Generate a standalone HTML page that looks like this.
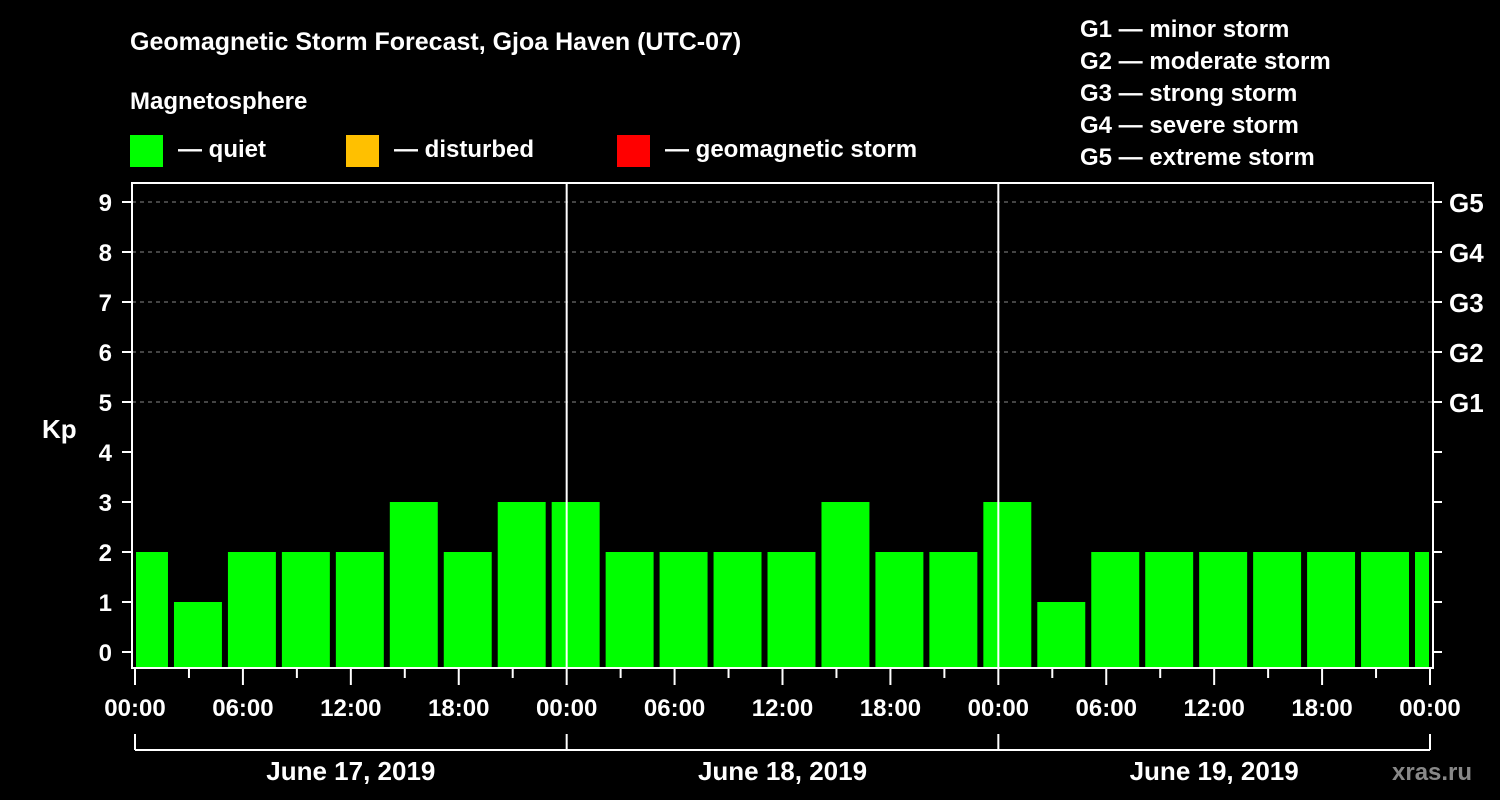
<!DOCTYPE html>
<html><head><meta charset="utf-8"><style>
html,body{margin:0;padding:0;background:#000;}
svg{display:block;}
text{font-family:"Liberation Sans",Arial,sans-serif;font-weight:bold;fill:#fff;}
</style></head><body>
<svg id="chart" width="1500" height="800" viewBox="0 0 1500 800" xmlns="http://www.w3.org/2000/svg">
<rect width="1500" height="800" fill="#000"/>
<text x="130" y="50" font-size="25">Geomagnetic Storm Forecast, Gjoa Haven (UTC-07)</text>
<text x="130" y="109" font-size="24">Magnetosphere</text>
<g><rect x="130" y="135" width="33" height="32" fill="#00ff00"/><text x="178" y="157" font-size="24">— quiet</text></g>
<g><rect x="346" y="135" width="33" height="32" fill="#ffc000"/><text x="394" y="157" font-size="24">— disturbed</text></g>
<g><rect x="617" y="135" width="33" height="32" fill="#ff0000"/><text x="665" y="157" font-size="24">— geomagnetic storm</text></g>
<g font-size="24">
<text x="1080" y="37">G1 — minor storm</text>
<text x="1080" y="69">G2 — moderate storm</text>
<text x="1080" y="101">G3 — strong storm</text>
<text x="1080" y="133">G4 — severe storm</text>
<text x="1080" y="165">G5 — extreme storm</text>
</g>
<text x="42" y="438" font-size="26">Kp</text>
<g id="grid"></g><g id="bars"></g><g id="axes"></g>
<text x="1392" y="780" font-size="24" fill="#888" style="fill:#888">xras.ru</text>
</svg>
<script>
const kpValues=[2,1,2,2,2,3,2,3,3,2,2,2,2,3,2,2,3,1,2,2,2,2,2,2,2];
const kpTicks=[0,1,2,3,4,5,6,7,8,9];
const gLabels=["G1","G2","G3","G4","G5"];
const gLevels=[5,6,7,8,9];
const timeLabels=["00:00","06:00","12:00","18:00","00:00","06:00","12:00","18:00","00:00","06:00","12:00","18:00","00:00"];
const dayLabels=["June 17, 2019","June 18, 2019","June 19, 2019"];
const NS="http://www.w3.org/2000/svg";
const L=132,R=1433,T=183,B=668;
const x0=135,x1=1430,H=72;
function xs(h){return x0+h*(x1-x0)/H;}
function ys(k){return 652-k*50;}
function mk(tag,attrs,parent){const e=document.createElementNS(NS,tag);for(const k in attrs)e.setAttribute(k,attrs[k]);parent.appendChild(e);return e;}
const grid=document.getElementById('grid'),bars=document.getElementById('bars'),axes=document.getElementById('axes');
kpTicks.forEach(k=>{if(k>=5){const g=mk('line',{x1:L,x2:R,y1:ys(k),y2:ys(k),stroke:'#888','stroke-dasharray':'4,4','stroke-width':1},grid);

}});
kpValues.forEach((v,i)=>{let a=xs(3*i-1)+3,b=xs(3*i+2)-3;a=Math.max(a,L+4);b=Math.min(b,x1-1);
const r=mk('rect',{x:a,y:ys(v),width:b-a,height:B-ys(v),fill:v>=5?'#ff0000':(v>=4?'#ffc000':'#00ff00')},bars);

});
[1,2].forEach(d=>{const l=mk('line',{x1:xs(24*d),x2:xs(24*d),y1:T,y2:B,stroke:'#fff','stroke-width':2},axes);

});
const frame=mk('rect',{x:L,y:T,width:R-L,height:B-T,fill:'none',stroke:'#fff','stroke-width':2},axes);


kpTicks.forEach(k=>{mk('line',{x1:122,x2:L,y1:ys(k),y2:ys(k),stroke:'#fff','stroke-width':2},axes);
mk('line',{x1:R,x2:1442,y1:ys(k),y2:ys(k),stroke:'#fff','stroke-width':2},axes);
const t=mk('text',{x:112,y:ys(k)+9,'font-size':24,'text-anchor':'end'},axes);t.textContent=k;

});
gLevels.forEach((k,i)=>{const t=mk('text',{x:1449,y:ys(k)+10,'font-size':26},axes);t.textContent=gLabels[i];

});
for(let h=0;h<=72;h+=3){const major=h%6===0;mk('line',{x1:xs(h),x2:xs(h),y1:B,y2:major?685:678,stroke:'#fff','stroke-width':2},axes);}
timeLabels.forEach((s,i)=>{const t=mk('text',{x:xs(6*i),y:716,'font-size':24,'text-anchor':'middle'},axes);t.textContent=s;

});
mk('line',{x1:x0,x2:x1,y1:750,y2:750,stroke:'#fff','stroke-width':2},axes);
for(let d=0;d<=3;d++)mk('line',{x1:xs(24*d),x2:xs(24*d),y1:734,y2:750,stroke:'#fff','stroke-width':2},axes);
dayLabels.forEach((s,i)=>{const t=mk('text',{x:xs(24*i+12),y:780,'font-size':26,'text-anchor':'middle'},axes);t.textContent=s;

});
</script>
</body></html>
